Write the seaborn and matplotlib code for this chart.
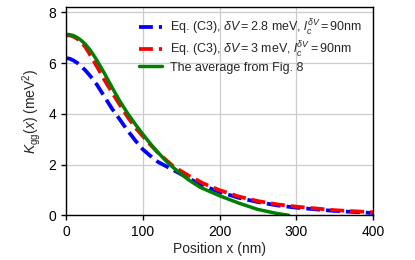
import numpy as np
import pandas as pd
import matplotlib
matplotlib.use("Agg")
import matplotlib.pyplot as plt
import seaborn as sns

# ==========================================
# DATA
# ==========================================
# Eq. (C3), dV = 2.8 meV
x_blue = [0, 5, 10, 15, 20, 25, 30, 35, 40, 50, 60, 70, 80, 90, 100, 110, 120,
          140, 160, 180, 200, 225, 250, 275, 300, 350, 400]
k_blue = [6.20, 6.17, 6.10, 6.00, 5.87, 5.72, 5.55, 5.36, 5.16, 4.68, 4.20, 3.78,
          3.35, 2.96, 2.60, 2.34, 2.10, 1.78, 1.45, 1.15, 0.92, 0.69, 0.52, 0.39,
          0.30, 0.17, 0.09]

# Eq. (C3), dV = 3 meV
x_red = [0, 5, 10, 15, 20, 25, 30, 35, 40, 50, 60, 70, 80, 90, 100, 110, 120,
         140, 160, 180, 200, 225, 250, 275, 300, 350, 400]
k_red = [7.10, 7.09, 7.04, 6.95, 6.82, 6.64, 6.40, 6.14, 5.88, 5.34, 4.84, 4.36,
         3.89, 3.47, 3.12, 2.78, 2.46, 1.92, 1.56, 1.24, 0.99, 0.74, 0.56, 0.43,
         0.34, 0.20, 0.12]

# The average from Fig. 8
x_green = [0, 5, 10, 15, 20, 25, 30, 35, 40, 50, 60, 70, 80, 90, 100, 110, 120,
           135, 150, 160, 175, 200, 225, 250, 275, 290]
k_green = [7.13, 7.12, 7.08, 7.00, 6.89, 6.75, 6.57, 6.36, 6.12, 5.60, 5.04, 4.51,
           4.03, 3.60, 3.20, 2.82, 2.47, 2.00, 1.63, 1.39, 1.10, 0.77, 0.48, 0.23,
           0.07, 0.0]

labels = [
    r"Eq. (C3), $\delta V = 2.8$ meV, $l_c^{\delta V} = 90$nm",
    r"Eq. (C3), $\delta V = 3$ meV, $l_c^{\delta V} = 90$nm",
    "The average from Fig. 8",
]

x_ticks = [0, 100, 200, 300, 400]
y_ticks = [0, 2, 4, 6, 8]

sns.set_style("ticks")
plt.rcParams["font.family"] = ["Liberation Sans", "DejaVu Sans"]
plt.rcParams["mathtext.fontset"] = "custom"
plt.rcParams["mathtext.rm"] = "Liberation Sans"
plt.rcParams["mathtext.it"] = "Liberation Sans:italic"
plt.rcParams["mathtext.bf"] = "Liberation Sans:bold"


def main():
    df_blue = pd.DataFrame({"x": x_blue, "k": k_blue})
    df_red = pd.DataFrame({"x": x_red, "k": k_red})
    df_green = pd.DataFrame({"x": x_green, "k": k_green})

    fig = plt.figure(figsize=(4.15, 2.6), dpi=100)
    ax = fig.add_axes([0.159, 0.172, 0.740, 0.800])

    sns.lineplot(data=df_blue, x="x", y="k", ax=ax, color="blue", lw=2.7,
                 linestyle="--", label=labels[0])
    sns.lineplot(data=df_red, x="x", y="k", ax=ax, color="red", lw=2.7,
                 linestyle="--", label=labels[1])
    sns.lineplot(data=df_green, x="x", y="k", ax=ax, color="green", lw=2.5,
                 label=labels[2])

    ax.set_xlim(0, 400)
    ax.set_ylim(0, 8.2)
    ax.set_xticks(x_ticks)
    ax.set_yticks(y_ticks)
    ax.grid(True, color="#cccccc", lw=0.9)
    ax.set_axisbelow(True)
    for sp in ax.spines.values():
        sp.set_color("black")
        sp.set_linewidth(1.0)
    ax.tick_params(labelsize=10, length=3.5, width=1.0, colors="black")

    ax.set_xlabel("Position x (nm)", fontsize=10, labelpad=2)
    ax.set_ylabel(r"$K_{\rm gg}(x)$ (meV$^2$)", fontsize=10, labelpad=4)

    ax.legend(loc="upper right", frameon=False, fontsize=9,
              handlelength=1.8, handletextpad=0.7, labelspacing=0.15,
              borderaxespad=0.45, bbox_to_anchor=(1.0, 1.0))

    fig.savefig("out.png", dpi=100)
    plt.close(fig)


if __name__ == "__main__":
    main()
